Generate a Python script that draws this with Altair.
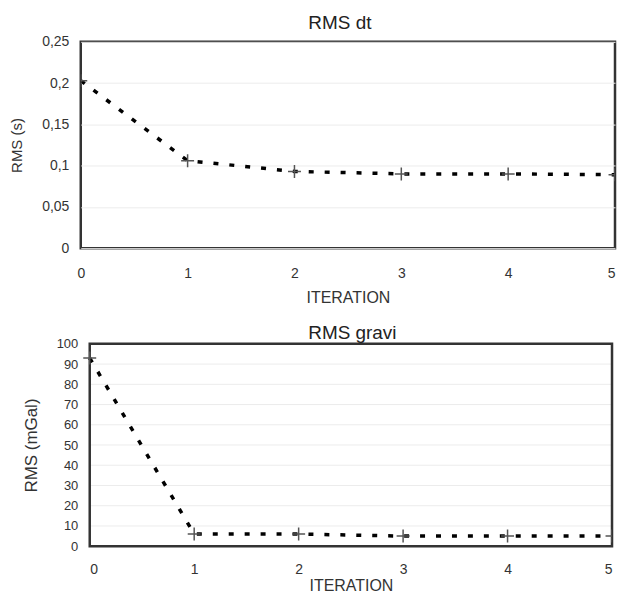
import altair as alt
import pandas as pd

iterations = [0, 1, 2, 3, 4, 5]
rms_dt = [0.203, 0.106, 0.093, 0.090, 0.090, 0.089]
rms_gravi = [93, 6, 6, 5, 5, 5]

dt_ticks = [0, 0.05, 0.1, 0.15, 0.2, 0.25]
gravi_ticks = [0, 10, 20, 30, 40, 50, 60, 70, 80, 90, 100]
x_ticks = [0, 1, 2, 3, 4, 5]

FONT = "Liberation Sans"
CROSS = "M-1,0L1,0M0,-1L0,1"
TXT = "#333"

df_dt = pd.DataFrame({"iteration": iterations, "rms": rms_dt})
df_g = pd.DataFrame({"iteration": iterations, "rms": rms_gravi})
df_grid = pd.DataFrame({"tick": gravi_ticks})


def x_axis(label_pad, title_pad, last_right):
    kw = {}
    if last_right:
        kw["labelAlign"] = alt.ExprRef("datum.value == 5 ? 'right' : 'center'")
    return alt.Axis(
        values=x_ticks, title="ITERATION", grid=False, domain=False, ticks=False,
        labelPadding=label_pad, titlePadding=title_pad, labelFont=FONT, titleFont=FONT,
        labelFontSize=14, titleFontSize=16, titleFontWeight="normal",
        labelColor=TXT, titleColor=TXT, format="d", **kw,
    )


def y_axis(title, title_size, title_pad, values, label_expr, label_size, label_pad, grid):
    return alt.Axis(
        values=values, title=title, grid=grid, gridColor="#ececec", gridWidth=1,
        domain=False, ticks=False, labelPadding=label_pad, titlePadding=title_pad,
        labelFont=FONT, titleFont=FONT, labelFontSize=label_size,
        titleFontSize=title_size, titleFontWeight="normal",
        labelColor=TXT, titleColor=TXT, labelExpr=label_expr,
    )


def series_layers(base, x, y):
    line = base.mark_line(color="black", strokeDash=[5, 11], strokeWidth=3.5,
                          clip=True).encode(x=x, y=y)
    pts = base.mark_point(shape=CROSS, size=169, stroke="#555", strokeWidth=1.5,
                          filled=False, opacity=1, clip=True).encode(x=x, y=y)
    return line, pts


# ---- top panel: RMS dt
x_top = alt.X("iteration:Q", scale=alt.Scale(domain=[0, 5], nice=False),
              axis=x_axis(18, 10, True))
y_top = alt.Y("rms:Q", scale=alt.Scale(domain=[0, 0.25], nice=False),
              axis=y_axis("RMS (s)", 15, 17, dt_ticks,
                          "replace(format(datum.value, '.2~f'), '.', ',')", 14, 12, True))
l1, p1 = series_layers(alt.Chart(df_dt), x_top, y_top)
top = alt.layer(l1, p1).properties(
    width=536, height=207,
    title=alt.TitleParams("RMS dt", font=FONT, fontSize=19, fontWeight="normal",
                          color="#222", dx=-8, offset=2),
    view=alt.ViewBackground(stroke="#333", strokeWidth=2.5),
)

# ---- bottom panel: RMS gravi
BW = 533
xb_axis = x_axis(16, 1, False)
yb_axis = y_axis("RMS (mGal)", 17, 16, gravi_ticks, "format(datum.value, 'd')", 13, 3, False)
xb_scale = alt.Scale(domain=[0, 5], nice=False, range=[9, BW])
yb_scale = alt.Scale(domain=[0, 100], nice=False)

x_bot = alt.X("iteration:Q", scale=xb_scale, axis=xb_axis)
y_bot = alt.Y("rms:Q", scale=yb_scale, axis=yb_axis)

grid = alt.Chart(df_grid).mark_rule(color="#ececec", strokeWidth=1).encode(
    y=alt.Y("tick:Q", scale=yb_scale, axis=yb_axis),
    x=alt.XDatum(0, type="quantitative", scale=xb_scale, axis=xb_axis),
    x2=alt.X2Datum(5),
)
frame = alt.Chart(df_grid.head(1)).mark_rect(filled=False, stroke="#333", strokeWidth=2.5).encode(
    x=alt.XDatum(0, type="quantitative", scale=xb_scale, axis=xb_axis),
    x2=alt.X2Datum(5),
    y=alt.YDatum(0, type="quantitative", scale=yb_scale, axis=yb_axis),
    y2=alt.Y2Datum(100),
)
l2, p2 = series_layers(alt.Chart(df_g), x_bot, y_bot)
bottom = alt.layer(grid, frame, l2, p2).properties(
    width=BW, height=203,
    title=alt.TitleParams("RMS gravi", font=FONT, fontSize=19, fontWeight="normal",
                          color="#222", dx=6, offset=-5),
    view=alt.ViewBackground(stroke="transparent"),
)

chart = alt.vconcat(top, bottom, spacing=15).properties(
    padding={"left": 0, "top": 3, "right": 0, "bottom": 0}
).configure(background="white")

chart.save("out.html", embed_options={"renderer": "svg", "actions": False})
